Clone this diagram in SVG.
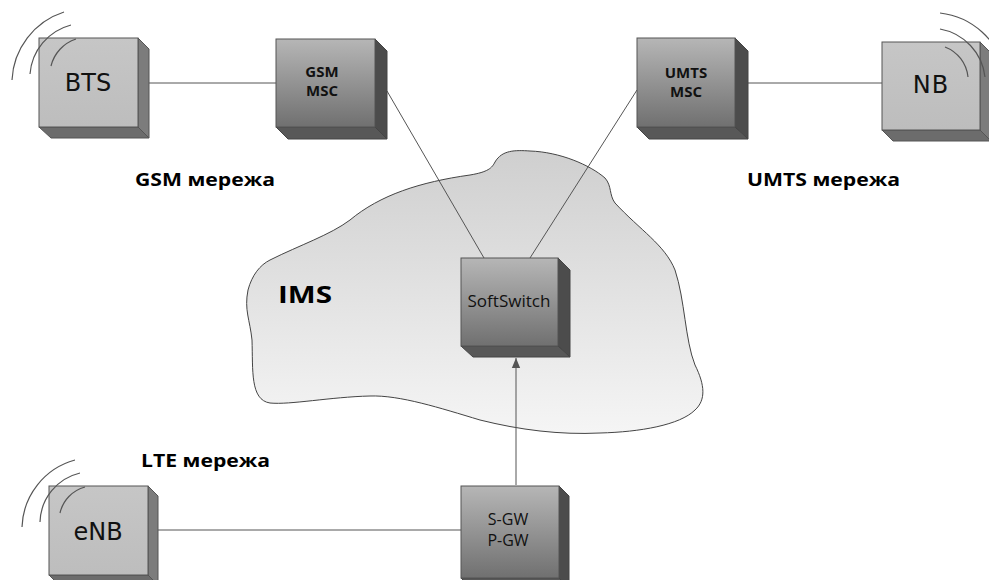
<svg xmlns="http://www.w3.org/2000/svg" width="989" height="580" viewBox="0 0 989 580">
<style>
.lfront{fill:url(#gl);stroke:#555;stroke-width:1}
.dfront{fill:url(#gd);stroke:#555;stroke-width:1}
.lside{fill:#7c7c7c;stroke:#555;stroke-width:1}
.lbot{fill:#6c6c6c;stroke:#555;stroke-width:1}
.dside{fill:#4c4c4c;stroke:#444;stroke-width:1}
.dbot{fill:#585858;stroke:#444;stroke-width:1}
.wave{fill:none;stroke:#555;stroke-width:1.2}
.big{font-family:"DejaVu Sans",sans-serif;font-size:24px;fill:#111;text-anchor:middle}
.mid{font-family:"Open Sans","DejaVu Sans",sans-serif;font-size:16px;fill:#111;text-anchor:middle}
.bmid{font-family:"Open Sans","DejaVu Sans",sans-serif;font-size:15px;font-weight:bold;fill:#111;text-anchor:middle}
.lbl{font-family:"Open Sans","DejaVu Sans",sans-serif;font-size:17px;font-weight:bold;fill:#000}
.line{stroke:#555;stroke-width:1;fill:none}
</style>
<defs>
<linearGradient id="gl" x1="0" y1="0" x2="0" y2="1"><stop offset="0" stop-color="#c6c6c6"/><stop offset="1" stop-color="#bdbdbd"/></linearGradient>
<linearGradient id="gd" x1="0" y1="0" x2="0" y2="1"><stop offset="0" stop-color="#b6b6b6"/><stop offset="1" stop-color="#707070"/></linearGradient>
<linearGradient id="gc" x1="0" y1="0" x2="0" y2="1"><stop offset="0" stop-color="#cfcfcf"/><stop offset="1" stop-color="#f5f5f5"/></linearGradient>
<marker id="arr" markerWidth="10" markerHeight="12" refX="12" refY="5" orient="auto" markerUnits="userSpaceOnUse" viewBox="0 0 12 10">
<path d="M0,0 L12,5 L0,10 Z" fill="#555"/>
</marker>
</defs>

<g id="ims-cloud">
<path d="M270,260 C300,245 330,235 350,220 C380,195 420,182 470,175 C488,172 492,168 495,162 C502,150 515,150 530,151 C560,152 590,165 605,178 C612,186 609,195 615,203 C640,230 665,245 675,270 C685,300 685,340 695,365 C705,385 706,400 695,410 C680,425 640,432 600,433 C560,435 520,430 480,420 C440,408 400,395 370,396 C330,397 290,405 270,403 C250,400 253,370 252,340 C250,320 244,310 248,290 C252,275 260,265 270,260 Z" fill="url(#gc)" stroke="#444" stroke-width="1"/>
<text class="lbl" x="278" y="303" textLength="54" lengthAdjust="spacingAndGlyphs" style="font-size:24px">IMS</text>
</g>

<g id="connectors">
<line class="line" x1="149" y1="83" x2="276" y2="83" stroke="#888"/>
<line class="line" x1="748" y1="83" x2="882" y2="83" stroke="#888"/>
<line class="line" x1="387" y1="91" x2="484" y2="258"/>
<line class="line" x1="637" y1="90" x2="530" y2="258"/>
<line class="line" x1="158" y1="530" x2="461" y2="530"/>
<line class="line" x1="516" y1="485" x2="516" y2="358" marker-end="url(#arr)"/>
</g>

<g id="bts">
<polygon class="lside" points="138,38 149,49 149,138 138,127"/>
<polygon class="lbot" points="39,127 138,127 149,138 51,138"/>
<rect class="lfront" x="39" y="38" width="99" height="89"/>
<text class="big" x="88" y="91">BTS</text>
<path class="wave" d="M12,80 A75,75 0 0 1 64,12"/>
<path class="wave" d="M30,74 A55,55 0 0 1 71,25"/>
<path class="wave" d="M51,66 A38,38 0 0 1 76,39"/>
</g>

<g id="gsm-msc">
<polygon class="dside" points="375,39 387,51 387,139 375,127"/>
<polygon class="dbot" points="276,127 375,127 387,139 288,139"/>
<rect class="dfront" x="276" y="39" width="99" height="88"/>
<text class="bmid" x="322" y="77">GSM</text>
<text class="bmid" x="322" y="96">MSC</text>
</g>

<g id="umts-msc">
<polygon class="dside" points="735,38 748,51 748,139 735,127"/>
<polygon class="dbot" points="637,127 735,127 748,139 649,139"/>
<rect class="dfront" x="637" y="38" width="98" height="89"/>
<text class="bmid" x="686" y="78">UMTS</text>
<text class="bmid" x="686" y="97">MSC</text>
</g>

<g id="nb">
<polygon class="lside" points="980,42 991,53 991,141 980,130"/>
<polygon class="lbot" points="882,130 980,130 991,141 893,141"/>
<rect class="lfront" x="882" y="42" width="98" height="88"/>
<text class="big" x="931" y="93" letter-spacing="1">NB</text>
<path class="wave" d="M940,13 A75,75 0 0 1 1005,72"/>
<path class="wave" d="M940,29 A55,55 0 0 1 985,77"/>
<path class="wave" d="M945,47 A36,36 0 0 1 968,77"/>
</g>

<g id="softswitch">
<polygon class="dside" points="558,258 570,270 570,357 558,346"/>
<polygon class="dbot" points="461,346 558,346 570,357 473,357"/>
<rect class="dfront" x="461" y="258" width="97" height="88"/>
<text class="mid" x="509" y="307" textLength="83" lengthAdjust="spacingAndGlyphs">SoftSwitch</text>
</g>

<g id="sgw-pgw">
<polygon class="dside" points="559,486 569,496 569,588 559,578"/>
<polygon class="dbot" points="461,578 559,578 569,588 471,588"/>
<rect class="dfront" x="461" y="486" width="98" height="92"/>
<text class="mid" x="508" y="525">S-GW</text>
<text class="mid" x="508" y="546">P-GW</text>
</g>

<g id="enb">
<polygon class="lside" points="148,486 158,496 158,585 148,575"/>
<polygon class="lbot" points="49,575 148,575 158,585 59,585"/>
<rect class="lfront" x="49" y="486" width="99" height="89"/>
<text class="big" x="98" y="540">eNB</text>
<path class="wave" d="M22,527 A72,72 0 0 1 75,460"/>
<path class="wave" d="M40,522 A52,52 0 0 1 80,473"/>
<path class="wave" d="M60,513 A35,35 0 0 1 85,487"/>
</g>

<g id="labels">
<text class="lbl" x="135" y="186" textLength="140" lengthAdjust="spacingAndGlyphs">GSM мережа</text>
<text class="lbl" x="747" y="186" textLength="153" lengthAdjust="spacingAndGlyphs">UMTS мережа</text>
<text class="lbl" x="141" y="467" textLength="129" lengthAdjust="spacingAndGlyphs">LTE мережа</text>
</g>
</svg>
